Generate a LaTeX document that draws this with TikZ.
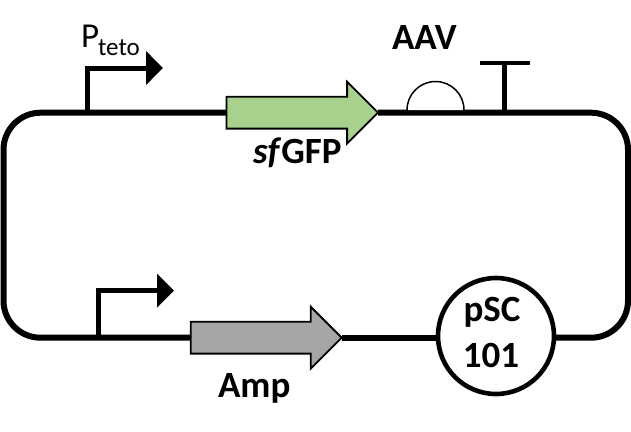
\documentclass[tikz,border=0pt]{standalone}
\usepackage{fontspec}
\setmainfont{Carlito}
\usetikzlibrary{arrows.meta,shapes.arrows,backgrounds}
\definecolor{gfpgreen}{HTML}{A9D18E}
\definecolor{ampgray}{HTML}{A6A6A6}
\tikzset{
  backbone/.style={line width=6pt,rounded corners=37pt},
  geneshape/.style={single arrow,draw=black,line width=1.8pt,inner sep=0pt,outer sep=0pt,
    text height=30pt,text depth=0pt,text width=1pt,minimum width=60pt,
    single arrow head extend=15pt,single arrow tip angle=90,anchor=tip},
  promoter/.style={line width=5pt,miter limit=10,-{Triangle[length=17pt,width=33pt]}},
  lbl/.style={inner sep=0pt,outer sep=0pt,anchor=base west,font=\fontsize{37}{37}\selectfont\bfseries},
}
\begin{document}
\begin{tikzpicture}[x=1pt,y=-1pt]
\useasboundingbox (0,0) rectangle (631,431);
% nodes
\node[geneshape,fill=gfpgreen,minimum height=151.5pt] (gfp) at (378,112.7) {};
\node[geneshape,fill=ampgray,minimum height=151pt] (amp) at (341.7,337.7) {};
\node[circle,draw=black,fill=white,line width=4.6pt,minimum size=116pt,inner sep=0pt,outer sep=0pt] (ori) at (496,336) {};
\coordinate (tr) at (628,112.7);
\coordinate (br) at (628,337.7);
\coordinate (bl) at (3.5,337.7);
\coordinate (tl) at (3.5,112.7);
\coordinate (p1) at (87.7,112.7);
\coordinate (p1c) at (87.7,68);
\coordinate (p1e) at (163,68);
\coordinate (p2) at (98.7,337.7);
\coordinate (p2c) at (98.7,290.7);
\coordinate (p2e) at (174,290.7);
\coordinate (t0) at (504.3,112.7);
\coordinate (t1) at (504.3,62.7);
\coordinate (ta) at (480,62.7);
\coordinate (tb) at (530,62.7);
\coordinate (a0) at (407,110);
\begin{pgfonlayer}{background}
  \draw[backbone] (gfp.tip) -- (tr) -- (br) -- (br -| ori.east);
  \draw[line width=6pt] (amp.tip -| ori.west) -- (amp.tip);
  \draw[backbone] (amp.west) -- (bl) -- (tl) -- (gfp.west);
\end{pgfonlayer}
\draw[promoter] (p1) -- (p1c) -- (p1e);
\draw[promoter] (p2) -- (p2c) -- (p2e);
\draw[line width=4.6pt] (t0) -- (t1);
\draw[line width=3.6pt] (ta) -- (tb);
\draw[line width=1.5pt,fill=white] (a0) arc[start angle=180,end angle=0,radius=28.5pt];
\node[lbl,font=\fontsize{35}{35}\selectfont] (pteto) at (81,47.7) {P};
\node[lbl,font=\fontsize{25}{25}\selectfont] (teto) at (pteto.base east) [xshift=-1pt,yshift=-7.3pt] {teto};
\node[lbl] (aav) at (392,49.3) {AAV};
\node[lbl] (sf) at (253,163) {\textit{sf}GFP};
\node[lbl] (ampl) at (218,397.3) {Amp};
\node[lbl,anchor=base] (psc) at (492,321.7) {pSC};
\node[lbl,anchor=base] (num) at (491,367.7) {101};
\end{tikzpicture}
\end{document}
